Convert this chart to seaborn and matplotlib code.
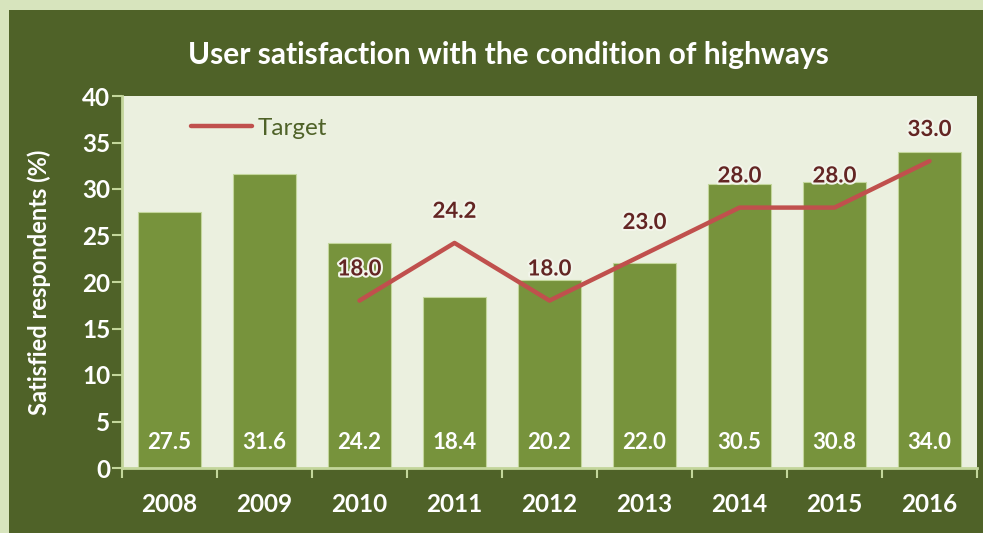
import matplotlib
matplotlib.use("Agg")
import matplotlib.pyplot as plt
import matplotlib.patheffects as pe
from matplotlib.patches import Rectangle
import numpy as np
import pandas as pd
import seaborn as sns

# Survey results and targets
years = ["2008", "2009", "2010", "2011", "2012", "2013", "2014", "2015", "2016"]
satisfied = [27.5, 31.6, 24.2, 18.4, 20.2, 22.0, 30.5, 30.8, 34.0]
target_years = ["2010", "2011", "2012", "2013", "2014", "2015", "2016"]
target = [18.0, 24.2, 18.0, 23.0, 28.0, 28.0, 33.0]
y_ticks = [0, 5, 10, 15, 20, 25, 30, 35, 40]

title = "User satisfaction with the condition of highways"
y_label = "Satisfied respondents (%)"

BORDER = "#d7e4bd"
PANEL = "#4f6228"
PLOT_BG = "#ebf0df"
BAR = "#77933c"
BAR_EDGE = "#c3d69b"
LINE = "#c0504d"
TARGET_TXT = "#632523"
SPINE = "#c3d69b"

sns.set_theme(style="white")
plt.rcParams["font.family"] = ["Lato", "DejaVu Sans"]

fig = plt.figure(figsize=(9.83, 5.33), dpi=100, facecolor=BORDER)
fig.patches.append(Rectangle((9 / 983, 0), 1, 523 / 533, transform=fig.transFigure,
                             facecolor=PANEL, edgecolor="none", zorder=-5))

ax = fig.add_axes([122 / 983, 65 / 533, 855 / 983, 372 / 533])
ax.set_facecolor(PLOT_BG)

df = pd.DataFrame({"year": years, "satisfied": satisfied})
sns.barplot(data=df, x="year", y="satisfied", color=BAR, saturation=1,
            width=0.66, edgecolor=BAR_EDGE, linewidth=0.8, ax=ax, zorder=2)

pos = {y: i for i, y in enumerate(years)}
tdf = pd.DataFrame({"x": [pos[y] for y in target_years], "target": target})
sns.lineplot(data=tdf, x="x", y="target", color=LINE, linewidth=3.2,
             label="Target", ax=ax, zorder=3)

# value labels inside the bars
for i, v in enumerate(satisfied):
    ax.text(i, 2.7, f"{v:.1f}", ha="center", va="center", color="white",
            fontsize=16, fontweight="bold", zorder=4)

# target labels above the line
for x, v in zip(tdf["x"], target):
    ax.text(x, v + 3.4, f"{v:.1f}", ha="center", va="center", color=TARGET_TXT,
            fontsize=16, fontweight="bold", zorder=5,
            path_effects=[pe.withStroke(linewidth=3, foreground="#f2f5ea")])

ax.set_xlim(-0.5, len(years) - 0.5)
ax.set_ylim(0, 40)
ax.set_yticks(y_ticks)
ax.set_yticklabels([str(t) for t in y_ticks])
ax.set_xticks(range(len(years)))
ax.set_xticklabels(years)
ax.set_xlabel("")
ax.set_ylabel(y_label, color="white", fontsize=17, fontweight="bold", labelpad=22)

for side in ["top", "right"]:
    ax.spines[side].set_visible(False)
for side in ["left", "bottom"]:
    ax.spines[side].set_color(SPINE)
    ax.spines[side].set_linewidth(2)

ax.tick_params(axis="y", colors=SPINE, labelcolor="white", labelsize=17.5,
               length=7, width=1.5, direction="out", pad=1.5, left=True)
ax.tick_params(axis="x", bottom=False, labelcolor="white", labelsize=17.5, pad=12)
for lab in ax.get_yticklabels() + ax.get_xticklabels():
    lab.set_fontweight("bold")

# category boundary ticks on the x axis
ax.set_xticks(np.arange(-0.5, len(years)), minor=True)
ax.tick_params(axis="x", which="minor", bottom=True, colors=SPINE,
               length=7, width=1.5, direction="out")

leg = ax.legend(loc="upper left", bbox_to_anchor=(0.055, 1.0), frameon=False,
                fontsize=17.5, handlelength=2.5, handletextpad=0.25)
for t in leg.get_texts():
    t.set_color(PANEL)

fig.text(508 / 983, 1 - 55 / 533, title, ha="center", va="center",
         color="white", fontsize=21.5, fontweight="bold")

fig.savefig("out.png", dpi=100, facecolor=fig.get_facecolor())
